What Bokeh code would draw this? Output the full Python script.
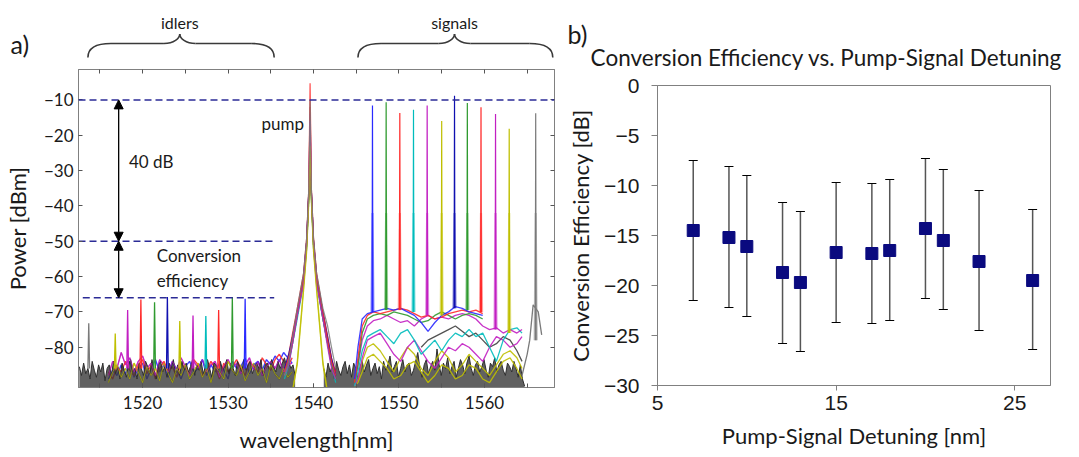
from bokeh.plotting import figure
from bokeh.layouts import row, column
from bokeh.models import (Range1d, LinearAxis, FixedTicker, SingleIntervalTicker,
                          Span, Arrow, NormalHead, TeeHead, Whisker, ColumnDataSource,
                          CustomJSTickFormatter)
from bokeh.core.properties import value
from bokeh.embed import file_html
from bokeh.resources import INLINE

nan = float("nan")

# ======================= DATA : panel a (spectra) =======================
B, G, R, C, M, Y, DB, K = ("#2a2aff", "#2f9a2f", "#ff2a2a", "#00bcbc",
                           "#c21fc2", "#bfbf00", "#1010b0", "#7a7a7a")
trace_colors = [B, G, R, C, M, Y, DB, G, R, M, Y, K]
signal_wl = [1546.9, 1548.5, 1550.1, 1551.7, 1553.3, 1555.0, 1556.5, 1558.0, 1559.6, 1561.3, 1562.9, 1566.0]
signal_pk = [-11.6, -10.7, -13.7, -12.8, -11.6, -16.0, -8.8, -10.9, -12.1, -14.0, -18.2, -13.8]
signal_base = [-70, -69.5, -69.5, -70, -71, -71, -69, -69.5, -70, -75, -76, -78]
idler_wl = [1532.0, 1530.5, 1528.9, 1527.4, 1525.9, 1524.35, 1522.9, 1521.4, 1519.8, 1518.25, 1516.8, 1513.7]
idler_pk = [-66.3, -65.8, -69.5, -71.2, -71.0, -72.6, -65.8, -67.3, -66.5, -69.5, -76.1, -73.2]

pump_wl = [1536.6, 1537.1, 1537.55, 1538.1, 1538.84, 1539.2, 1539.45, 1539.6,
           1539.75, 1540.0, 1540.36, 1541.1, 1541.65, 1542.1, 1542.6]
pump_pw = [
    [-87, -83, -77, -70, -60, -50, -36, -25, -36, -50, -60, -71, -78, -84, -88],
    [-88, -84, -78, -71, -61, -51, -37, -19, -37, -51, -61, -72, -79, -85, -89],
    [-86, -82, -76, -69, -59, -49, -35, -5.3, -35, -49, -59, -70, -77, -83, -87],
    [-89, -85, -79, -72, -62, -52, -38, -28, -38, -52, -62, -72, -79, -85, -90],
    [-87, -84, -78, -70, -61, -50, -36, -14, -36, -50, -61, -71, -78, -84, -88],
    [-93, -93, -93, -84, -63, -52, -38, -21, -38, -52, -63, -84, -93, -93, -93],
    [-86, -82, -77, -70, -60, -50, -36, -30, -36, -50, -60, -70, -77, -83, -88],
    [-88, -84, -79, -71, -61, -51, -37, -33, -37, -51, -61, -72, -79, -85, -89],
    [-87, -83, -78, -70, -60, -50, -36, -12, -36, -50, -60, -70, -78, -84, -88],
    [-88, -85, -79, -71, -62, -51, -37, -16, -37, -51, -62, -72, -80, -86, -89],
    [-93, -93, -92, -85, -64, -53, -39, -23, -39, -53, -64, -85, -93, -93, -93],
    [-88, -84, -77, -69, -59, -49, -35, -10, -35, -49, -59, -69, -74, -80, -86],
]

# dark noise floor (0.25 nm sampling)
noise_a_start = 1512.6
noise_a = [
    -85.5, -88.0, -84.5, -87.5, -86.0, -89.0, -84.0, -86.5, -88.5, -85.0,
    -87.0, -84.5, -89.5, -86.0, -85.0, -88.0, -84.0, -87.5, -85.5, -89.0,
    -84.5, -86.5, -88.5, -85.0, -83.5, -87.0, -86.0, -89.0, -84.5, -86.0,
    -88.0, -84.0, -85.5, -87.5, -83.5, -86.5, -89.0, -85.0, -84.0, -87.0,
    -85.5, -88.5, -84.5, -86.0, -83.5, -87.5, -85.0, -88.0, -84.0, -86.5,
    -84.5, -87.0, -85.5, -83.5, -88.0, -85.0, -86.5, -84.0, -87.5, -85.5,
    -83.5, -86.0, -88.5, -84.5, -85.0, -87.0, -84.0, -86.5, -85.5, -83.5,
    -87.5, -84.5, -86.0, -88.0, -84.0, -85.5, -87.0, -83.5, -86.5, -85.0,
    -84.0, -87.5, -85.5, -84.5, -86.0, -83.5, -88.0, -85.0, -84.5, -86.5,
    -83.5, -85.5, -87.0, -84.0, -86.0, -84.5, -83.0, -85.5, -84.0, -86.0,
    -85.0, -88.0]
noise_b_start = 1541.2
noise_b = [
    -86.0, -88.5, -84.5, -87.0, -85.0, -89.0, -84.0, -86.5, -88.0, -85.5,
    -84.0, -87.5, -85.0, -88.5, -84.5, -86.0, -89.0, -85.5, -84.0, -87.0,
    -85.0, -83.5, -88.0, -86.0, -84.5, -87.5, -85.5, -89.0, -84.0, -86.5,
    -85.0, -82.5, -87.0, -85.5, -84.0, -88.5, -86.0, -83.5, -87.0, -85.0,
    -84.5, -88.0, -86.5, -84.0, -81.5, -86.0, -88.5, -85.0, -83.5, -87.5,
    -85.5, -84.0, -86.5, -80.5, -85.0, -88.0, -84.5, -86.0, -83.0, -87.5,
    -85.5, -84.0, -88.5, -86.0, -83.5, -85.0, -87.5, -84.5, -82.5, -86.0,
    -88.0, -85.0, -84.0, -87.0, -85.5, -83.5, -86.5, -88.5, -84.5, -85.5,
    -83.0, -87.0, -85.0, -84.0, -86.5, -88.0, -84.5, -85.5, -87.0, -84.0,
    -86.0, -88.5, -85.0, -89.0, -91.0]

# coloured noise in the idler band (0.5 nm sampling from 1516.0)
cnoise_start = 1516.0
cnoise_colors = [M, Y, B, R]
cnoise = [
    [-88, -84, -86, -81.5, -85, -83, -87, -84, -82.5, -86, -84.5, -88, -83.5, -85, -87, -84,
     -86.5, -83, -85.5, -88, -84, -86, -83.5, -87, -85, -84, -88.5, -85.5, -83.5, -86, -84.5,
     -87.5, -85, -83, -86.5, -84, -88, -85.5, -84, -86, -83.5, -87, -85, -84.5],
    [-90, -87, -85, -88.5, -86, -89, -84.5, -87, -90, -85.5, -88, -86, -89.5, -84.5, -87.5, -90,
     -86, -88, -85, -89, -87, -84.5, -88.5, -86, -90, -85.5, -87, -89, -84, -86.5, -88, -85,
     -89.5, -87, -84.5, -88, -86, -90, -85, -87.5, -89, -86, -88.5, -87],
    [-89, -86.5, -88, -85, -87.5, -84, -88.5, -86, -84.5, -89, -86, -83.5, -87, -85, -88.5, -84,
     -86.5, -89, -85.5, -84, -87, -86, -83.5, -88, -85, -87, -84.5, -86.5, -89, -84, -86, -85.5,
     -83, -87.5, -85, -84, -86.5, -83.5, -85, -82.5, -84, -81.5, -83, -84.5],
    [-87, -89, -85.5, -87, -84, -86.5, -88, -85, -83.5, -87.5, -85, -89, -86, -84, -87, -85.5,
     -88.5, -84.5, -86, -87.5, -83.5, -85, -88, -86.5, -84, -86, -89, -84.5, -87, -85.5, -83.5,
     -86, -88, -84, -85.5, -87, -83, -85, -86.5, -83.5, -82, -84, -85.5, -83],
]

# broadband traces under the signals
hump_wl = [1544.8, 1545.2, 1545.7, 1546.3, 1547.0, 1547.8, 1548.6, 1549.4, 1550.2, 1551.0,
           1551.8, 1552.6, 1553.4, 1554.2, 1555.0, 1555.8, 1556.6, 1557.4, 1558.2, 1559.0,
           1559.8, 1560.6, 1561.4, 1562.2, 1563.0, 1563.8, 1564.4]
hump_colors = [Y, Y, "#404040", M, C, M, G, R, B]
hump_pw = [
    [-91, -89, -84, -80, -79, -81, -84, -87, -83, -80, -82, -86, -88, -84, -81, -83, -87, -85,
     -82, -84, -86, -88, -85, -82, -81, -83, -86],
    [-91, -90, -87, -83, -82, -84, -86, -89, -88, -85, -84, -87, -90, -88, -85, -86, -89, -88,
     -85, -86, -89, -90, -87, -84, -83, -86, -89],
    [nan, nan, nan, nan, nan, nan, nan, nan, nan, nan, nan, -80, -78, -77, -76, -75, -74, -75.5,
     -77, -76, -78, -80, -79, -77, -78, -81, -84],
    [-91, -89, -83, -78, -77, -76, -79, -82, -84, -80, -78, -81, -84, -86, -83, -80, -81, -79,
     -80, -82, -84, -80, -77, -78, -80, -79, -77],
    [-91, -87, -81, -77, -76, -75, -77, -79, -76, -75, -78, -82, -80, -78, -81, -78, -76, -77,
     -75, -77, -76, -80, -84, -78, -75, -74.5, -76],
    [-90, -85, -78, -74, -72.5, -72, -71, -72, -73, -72.5, -74, -72, -71, -72, -71.5, -72, -71,
     -70.5, -71, -72, -74, -75, -74.5, -76, -75, -76, -75],
    [-90, -85, -76, -72, -71, -70.5, -71, -70, -70.5, -71, -72, -73, -72.5, -71, -70, -71, -72,
     -71, -70.5, -71, -72, nan, nan, nan, nan, nan, nan],
    [-90, -83, -74, -71, -70, -70.5, -70, -69.5, -69, -69.5, -70.5, -71.5, -71, -72, -71.5,
     -70.5, -70, -69.5, -70, -69.5, -70.5, nan, nan, nan, nan, nan, nan],
    [-89, -80, -72, -70.5, -70, -69.5, -69, -69.5, -69, -70, -71, -73, -75.5, -73, -71, -70,
     -68.5, -69, -70, -70.5, -71, nan, nan, nan, nan, nan, nan],
]
tail_wl = [1564.4, 1565.0, 1565.3, 1565.7, 1566.3, 1566.7]
tail_pw = [-88, -82, -78, -68, -70, -76.5]

ref_level = -10
ce_lines_y = [-50, -66]
ce_lines_x0 = [1512.5, 1513.0]
ce_lines_x1 = [1535.4, 1535.4]
arrow_x = 1517.2

brace_left = [1513.6, 1545.2]
brace_tip = [1524.35, 1556.5]
brace_right = [1535.4, 1568.0]
brace_text = ["idlers", "signals"]

# ======================= DATA : panel b =======================
detuning = [7, 9, 10, 12, 13, 15, 17, 18, 20, 21, 23, 26]
ce = [-14.5, -15.2, -16.1, -18.7, -19.7, -16.7, -16.8, -16.5, -14.3, -15.5, -17.6, -19.5]
ce_upper = [-7.5, -8.1, -9.0, -11.7, -12.6, -9.7, -9.8, -9.4, -7.3, -8.4, -10.5, -12.4]
ce_lower = [-21.5, -22.2, -23.1, -25.8, -26.6, -23.7, -23.8, -23.5, -21.3, -22.4, -24.5, -26.4]

# ======================= layout constants =======================
XMIN, XMAX = 1512.5, 1568.2
YMIN, YMAX = -91.4, -1.4
A_W, A_TOP, A_H = 560, 62, 395
A_ML, A_MR = 78, 6
B_W, B_TOP, B_H = 519, 72, 385
B_ML, B_MR = 97, 29
BX0, BX1 = 5, 27
CAL = value("Lato")
FRAME = "#808080"
TXT = "#1a1a1a"
blank = CustomJSTickFormatter(code="return '';")

# ======================= panel a =======================
pa = figure(width=A_W, height=A_H, x_range=Range1d(XMIN, XMAX), y_range=Range1d(YMIN, YMAX),
            x_axis_type=None, y_axis_type=None, output_backend="svg", toolbar_location=None,
            min_border_left=A_ML, min_border_right=A_MR, min_border_top=7, min_border_bottom=70)
pa.grid.visible = False
pa.outline_line_color = FRAME

def style_axis(ax, labels=True):
    ax.axis_line_color = FRAME
    ax.major_tick_line_color = "#555555"
    ax.minor_tick_line_color = "#555555"
    ax.major_tick_in = 4
    ax.major_tick_out = 0
    ax.minor_tick_in = 4
    ax.minor_tick_out = 0
    if labels:
        ax.major_label_text_font = "Lato"
        ax.major_label_text_font_size = "17px"
        ax.major_label_text_color = TXT
        ax.axis_label_text_font = "Lato"
        ax.axis_label_text_font_size = "22px"
        ax.axis_label_text_font_style = "normal"
        ax.axis_label_text_color = TXT
    else:
        ax.formatter = blank
        ax.major_label_standoff = 0

yt = [-80, -70, -60, -50, -40, -30, -20, -10]
xb = LinearAxis(ticker=SingleIntervalTicker(interval=10, num_minor_ticks=2), axis_label="wavelength[nm]")
style_axis(xb)
xb.major_label_standoff = 8
xb.axis_label_standoff = 14
pa.add_layout(xb, "below")
yl = LinearAxis(ticker=FixedTicker(ticks=yt, minor_ticks=[]), axis_label="Power [dBm]")
style_axis(yl)
yl.major_label_standoff = 5
yl.axis_label_standoff = 10
pa.add_layout(yl, "left")
xt = LinearAxis(ticker=SingleIntervalTicker(interval=5, num_minor_ticks=0))
style_axis(xt, labels=False)
pa.add_layout(xt, "above")
yr = LinearAxis(ticker=FixedTicker(ticks=yt, minor_ticks=[]))
style_axis(yr, labels=False)
pa.add_layout(yr, "right")

# noise floor
na_wl = [noise_a_start + 0.25 * i for i in range(len(noise_a))]
nb_wl = [noise_b_start + 0.25 * i for i in range(len(noise_b))]
cn_wl = [cnoise_start + 0.5 * i for i in range(len(cnoise[0]))]
for col, pw in zip(cnoise_colors, cnoise):
    pa.line(cn_wl, pw, line_color=col, line_width=1.4, line_alpha=0.9)
for wl, pw in ((na_wl, noise_a), (nb_wl, noise_b)):
    pa.varea(x=wl, y1=-95, y2=pw, fill_color="#3a3a3a", fill_alpha=0.8)
    pa.line(wl, pw, line_color="#2e2e2e", line_width=1)
for col, pw in zip(cnoise_colors[:2], cnoise[:2]):
    pa.line(cn_wl, pw, line_color=col, line_width=1, line_alpha=0.6)

# broadband traces under signals
for col, pw in zip(hump_colors, hump_pw):
    pa.line(hump_wl, pw, line_color=col, line_width=1.3, line_alpha=0.9)
pa.line(tail_wl, tail_pw, line_color=K, line_width=1.3)

# pump traces
for col, pw in zip(trace_colors, pump_pw):
    pa.line(pump_wl, pw, line_color=col, line_width=1.2, line_alpha=0.85)

# idler spikes
for col, wl, pk in zip(trace_colors, idler_wl, idler_pk):
    pa.line([wl - 0.1, wl, wl + 0.1], [-86, pk, -86], line_color=col, line_width=1.3)

# signal spikes
for col, wl, pk, base in zip(trace_colors, signal_wl, signal_pk, signal_base):
    pa.line([wl - 0.12, wl, wl + 0.12], [base, -42, base], line_color=col,
            line_width=2.2, line_alpha=0.45)
    pa.line([wl - 0.05, wl, wl + 0.05], [base, pk, base], line_color=col, line_width=1.2)

# reference lines & annotations
DASH = "#2b2b96"
pa.add_layout(Span(location=ref_level, dimension="width", line_color=DASH,
                   line_dash="7 4", line_width=1.5))
pa.segment(x0=ce_lines_x0, y0=ce_lines_y, x1=ce_lines_x1, y1=ce_lines_y,
           line_color=DASH, line_dash="7 4", line_width=1.5)
for y0, y1 in ((ref_level, ce_lines_y[0]), (ce_lines_y[0], ce_lines_y[1])):
    pa.add_layout(Arrow(start=NormalHead(size=9, fill_color="black", line_color="black"),
                        end=NormalHead(size=9, fill_color="black", line_color="black"),
                        x_start=arrow_x, y_start=y0, x_end=arrow_x, y_end=y1,
                        line_color="black", line_width=1.3))
pa.text(x=[1518.4, 1521.65, 1521.65], y=[-27.5, -53.9, -61.2],
        text=["40 dB", "Conversion", "efficiency"], text_font=CAL, text_font_size="17px",
        text_baseline="middle", text_align="left", text_color=TXT)
pa.text(x=[1538.9], y=[-16.6], text=["pump"], text_font=CAL, text_font_size="17px",
        text_baseline="middle", text_align="right", text_color=TXT)

# ---- header strip of panel a (braces), same nm scale as panel a ----
npp = (XMAX - XMIN) / (A_W - A_ML - A_MR)
ha = figure(width=A_W, height=A_TOP, x_range=Range1d(XMIN - A_ML * npp, XMAX + A_MR * npp),
            y_range=Range1d(A_TOP, 0), x_axis_type=None, y_axis_type=None,
            output_backend="svg", toolbar_location=None, min_border=0)
ha.grid.visible = False
ha.outline_line_color = None
BR = "#3a3a3a"
for L, T, Rr in zip(brace_left, brace_tip, brace_right):
    e, t = 2.7, 1.85
    ha.bezier(x0=[L, T - t, T, Rr - e], y0=[57, 43, 33.5, 43],
              x1=[L + e, T, T + t, Rr], y1=[43, 33.5, 43, 57],
              cx0=[L, T - 0.7, T, Rr - 0.9], cy0=[47, 43, 38, 43],
              cx1=[L + 0.9, T, T + 0.7, Rr], cy1=[43, 38, 43, 47],
              line_color=BR, line_width=1.6)
    ha.segment(x0=[L + e, T + t], y0=[43, 43], x1=[T - t, Rr - e], y1=[43, 43],
               line_color=BR, line_width=1.6)
ha.text(x=brace_tip, y=[21.5, 21.5], text=brace_text, text_font=CAL, text_font_size="16px",
        text_align="center", text_baseline="middle", text_color=TXT)
ha.text(x=[XMIN - (A_ML - 10) * npp], y=[43], text=["a)"], text_font=CAL,
        text_font_size="25px", text_align="left", text_baseline="middle", text_color=TXT)

# ======================= panel b =======================
pb = figure(width=B_W, height=B_H, x_range=Range1d(BX0, BX1), y_range=Range1d(-30, 0),
            output_backend="svg", toolbar_location=None,
            min_border_left=B_ML, min_border_right=B_MR, min_border_top=85 - B_TOP,
            min_border_bottom=72)
pb.grid.visible = False
pb.outline_line_color = FRAME
pb.xaxis.ticker = FixedTicker(ticks=[5, 15, 25], minor_ticks=[])
pb.yaxis.ticker = FixedTicker(ticks=[-30, -25, -20, -15, -10, -5, 0], minor_ticks=[])
for ax in (pb.xaxis[0], pb.yaxis[0]):
    ax.axis_line_color = FRAME
    ax.major_tick_line_color = FRAME
    ax.major_tick_in = 0
    ax.major_label_text_font = "Liberation Sans"
    ax.major_label_text_font_size = "21px"
    ax.major_label_text_color = TXT
    ax.axis_label_text_font = "Lato"
    ax.axis_label_text_font_size = "22px"
    ax.axis_label_text_font_style = "normal"
    ax.axis_label_text_color = TXT
pb.xaxis.major_tick_out = 5
pb.xaxis.major_label_standoff = 5
pb.xaxis.axis_label = "Pump-Signal Detuning [nm]"
pb.xaxis.axis_label_standoff = 9
pb.yaxis.major_tick_out = 6
pb.yaxis.major_label_standoff = 12
pb.yaxis.axis_label = "Conversion Efficiency [dB]"
pb.yaxis.axis_label_standoff = 7

src = ColumnDataSource(dict(x=detuning, y=ce, upper=ce_upper, lower=ce_lower))
pb.add_layout(Whisker(source=src, base="x", upper="upper", lower="lower", dimension="height",
                      line_color="#555555", line_width=1.5,
                      upper_head=TeeHead(size=9, line_color="black", line_width=1.2),
                      lower_head=TeeHead(size=9, line_color="black", line_width=1.2)))
pb.scatter("x", "y", source=src, marker="square", size=12, fill_color="#0a0a7f",
           line_color="#0a0a7f")

# ---- header strip of panel b, same detuning scale as panel b ----
bpp = (BX1 - BX0) / (B_W - B_ML - B_MR)
hb = figure(width=B_W, height=B_TOP, x_range=Range1d(BX0 - B_ML * bpp, BX1 + B_MR * bpp),
            y_range=Range1d(B_TOP, 0), x_axis_type=None, y_axis_type=None,
            output_backend="svg", toolbar_location=None, min_border=0)
hb.grid.visible = False
hb.outline_line_color = None
hb.text(x=[BX0 - (B_ML - 7) * bpp], y=[33], text=["b)"], text_font=CAL,
        text_font_size="25px", text_align="left", text_baseline="middle", text_color=TXT)
hb.text(x=[BX0 + (266 - B_ML) * bpp], y=[57],
        text=["Conversion Efficiency vs. Pump-Signal Detuning"], text_font=CAL,
        text_font_size="22.5px", text_align="center", text_baseline="middle", text_color=TXT)

layout = row(column(row(ha), pa), column(row(hb), pb))
open("out.html", "w").write(file_html(layout, INLINE))
